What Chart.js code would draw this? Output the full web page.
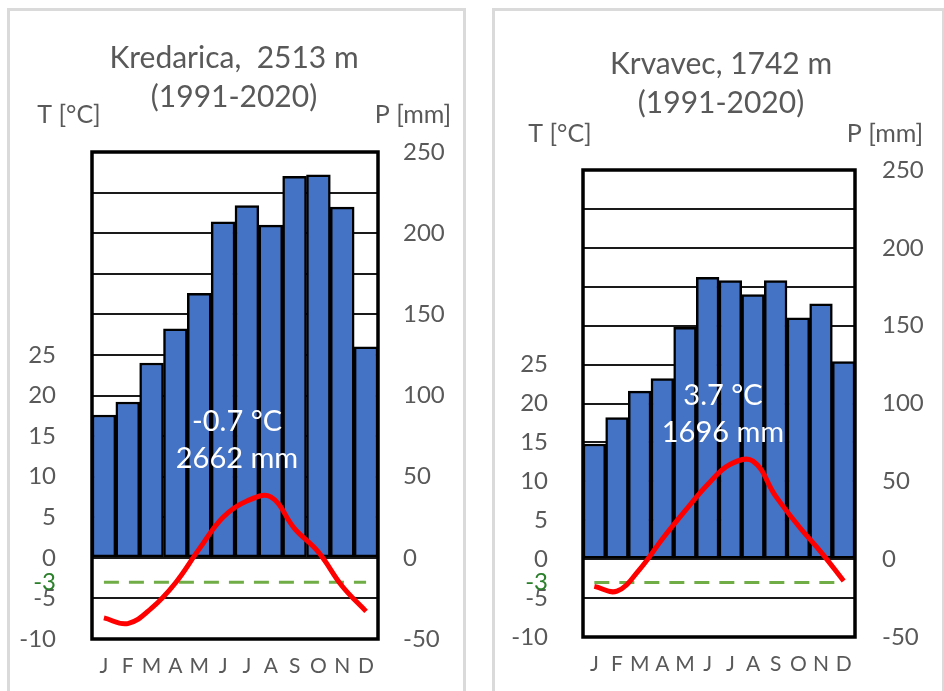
<!DOCTYPE html>
<html>
<head>
<meta charset="utf-8">
<script src="https://cdn.jsdelivr.net/npm/chart.js@4.4.1/dist/chart.umd.min.js"></script>
<style>
    body { margin: 0; background: #fff; width: 944px; height: 691px; overflow: hidden; position: relative; }
    .panel { position: absolute; top: 8px; height: 700px; border: 3px solid #dadada; box-sizing: border-box; }
    canvas { position: absolute; top: 0; }
</style>
</head>
<body>
<div class="panel" style="left:7px; width:459px;"></div>
<div class="panel" style="left:492px; width:453px;"></div>
<canvas id="kredaricaChart" width="470" height="691" style="left:0px"></canvas>
<canvas id="krvavecChart" width="474" height="691" style="left:470px"></canvas>
<script>
const months = ["J", "F", "M", "A", "M", "J", "J", "A", "S", "O", "N", "D"];
const tempTicks = [-10, -5, -3, 0, 5, 10, 15, 20, 25];
const frostLine = -3;

// Kredarica, 2513 m
const kredaricaTitle = ["Kredarica,  2513 m", "(1991-2020)"];
const kredaricaSummary = ["-0.7 °C", "2662 mm"];
const kredaricaPrecip = [88, 96, 120, 141, 163, 207, 217, 205, 235, 236, 216, 130];
const kredaricaTemp = [-7.4, -8.1, -6.2, -3.1, 1.1, 5.0, 7.0, 7.5, 3.6, 0.7, -3.5, -6.6];

// Krvavec, 1742 m
const krvavecTitle = ["Krvavec, 1742 m", "(1991-2020)"];
const krvavecSummary = ["3.7 °C", "1696 mm"];
const krvavecPrecip = [74, 91, 108, 116, 149, 181, 179, 170, 179, 155, 164, 127];
const krvavecTemp = [-3.5, -4.1, -1.3, 2.6, 6.2, 9.6, 12.2, 12.6, 8.1, 4.3, 0.9, -2.8];

const grey = "#595959";
const green = "#2a7f2a";
const fontFamily = "Lato, 'Open Sans', sans-serif";

/// Titles, unit labels, summary text and the black frame
function decorations(title, summary, pos) {
    return {
        id: "decorations",
        afterDraw(chart) {
            const ctx = chart.ctx;
            const a = chart.chartArea;
            ctx.save();
            ctx.strokeStyle = "#000";
            ctx.lineWidth = 3.5;
            ctx.strokeRect(a.left, a.top, a.right - a.left, a.bottom - a.top);

            ctx.textAlign = "center";
            ctx.textBaseline = "middle";
            ctx.fillStyle = grey;
            ctx.font = "30px " + fontFamily;
            ctx.fillText(title[0], pos.titleX, pos.titleY);
            ctx.fillText(title[1], pos.titleX, pos.titleY + 39);

            ctx.font = "25px " + fontFamily;
            ctx.fillText("T [°C]", pos.tUnitX, pos.unitY);
            ctx.fillText("P [mm]", pos.pUnitX, pos.unitY);

            ctx.fillStyle = "#fff";
            ctx.font = "29px " + fontFamily;
            ctx.fillText(summary[0], pos.sumX, pos.sumY);
            ctx.fillText(summary[1], pos.sumX, pos.sumY + 37);
            ctx.restore();
        }
    };
}

/// Setup one climate diagram
function climateChart(id, precip, temp, title, summary, pos) {
    return new Chart(id, {
        data: {
            labels: months,
            datasets: [
                {
                    type: "line",
                    label: "T",
                    yAxisID: "t",
                    data: temp,
                    borderColor: "#ff0000",
                    borderWidth: 5,
                    tension: 0.4,
                    pointRadius: 0
                },
                {
                    type: "line",
                    label: "-3",
                    yAxisID: "t",
                    data: months.map(() => frostLine),
                    borderColor: "#70ad47",
                    borderWidth: 3,
                    borderDash: [15, 10],
                    pointRadius: 0
                },
                {
                    type: "bar",
                    label: "P",
                    yAxisID: "p",
                    data: precip,
                    backgroundColor: "#4472c4",
                    borderColor: "#000",
                    borderWidth: 2.5,
                    borderSkipped: false,
                    categoryPercentage: 1,
                    barPercentage: 1
                }
            ]
        },
        options: {
            responsive: false,
            animation: false,
            layout: { padding: { top: pos.top } },
            plugins: {
                legend: { display: false },
                tooltip: { enabled: false }
            },
            scales: {
                x: {
                    grid: { display: false },
                    border: { display: false },
                    ticks: {
                        color: grey,
                        font: { family: fontFamily, size: 21 },
                        padding: 7,
                        maxRotation: 0,
                        autoSkip: false
                    },
                    afterFit: (s) => { s.height = pos.xHeight; }
                },
                t: {
                    position: "left",
                    min: -10,
                    max: 50,
                    grid: { display: false },
                    border: { display: false },
                    afterBuildTicks: (s) => { s.ticks = tempTicks.map(v => ({ value: v })); },
                    ticks: {
                        color: (c) => c.tick.value === frostLine ? green : grey,
                        font: { family: fontFamily, size: 24 },
                        padding: pos.tPad
                    },
                    afterFit: (s) => { s.width = pos.left; }
                },
                p: {
                    position: "right",
                    min: -50,
                    max: 250,
                    grid: { color: "#1a1a1a", lineWidth: 2, drawTicks: false },
                    border: { display: false },
                    ticks: {
                        stepSize: 25,
                        color: grey,
                        font: { family: fontFamily, size: 24 },
                        padding: pos.pPad,
                        callback: (v) => v % 50 === 0 ? v : ""
                    },
                    afterFit: (s) => { s.width = pos.right; }
                }
            }
        },
        plugins: [decorations(title, summary, pos)]
    });
}

climateChart("kredaricaChart", kredaricaPrecip, kredaricaTemp, kredaricaTitle, kredaricaSummary, {
    top: 152, xHeight: 52, left: 92, right: 92, tPad: 28, pPad: 25,
    titleX: 234, titleY: 58, tUnitX: 69, pUnitX: 413, unitY: 115, sumX: 237, sumY: 422
});

climateChart("krvavecChart", krvavecPrecip, krvavecTemp, krvavecTitle, krvavecSummary, {
    top: 170, xHeight: 54, left: 113, right: 89, tPad: 27, pPad: 27,
    titleX: 251, titleY: 64, tUnitX: 90, pUnitX: 415, unitY: 134, sumX: 253, sumY: 396
});
</script>
</body>
</html>
